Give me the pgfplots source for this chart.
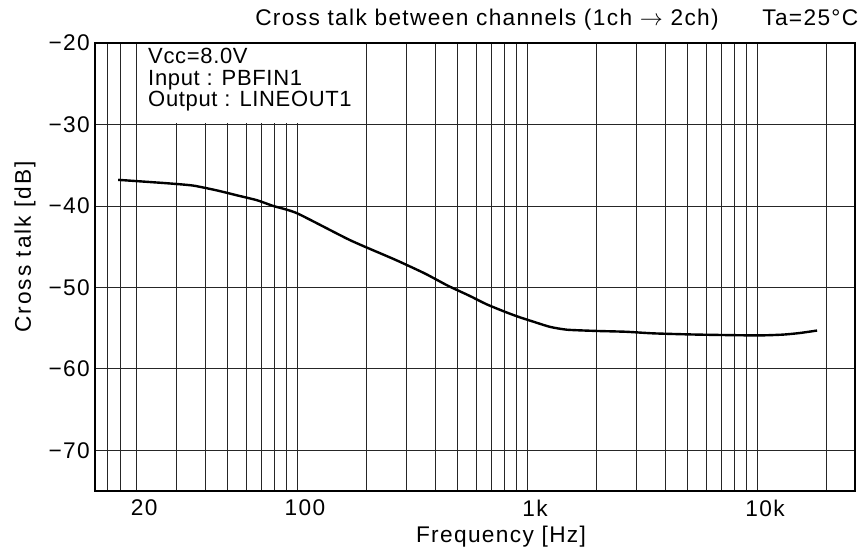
\documentclass[border=0pt]{standalone}
\usepackage{fontspec}
\setmainfont{Liberation Sans}[LetterSpace=6]
\newfontfamily\boxfont{Liberation Sans}[LetterSpace=3]
\newfontfamily\ylabfont{Liberation Sans}[LetterSpace=9]
\usepackage{pgfplots}
\pgfplotsset{compat=1.18}

\begin{document}
\begin{tikzpicture}[font=\fontsize{17}{20}\selectfont]
  % page frame: 866x557 px at 0.75pt/px, axis lower left at (95,491) px
  \useasboundingbox (-71.25pt,-49.5pt) rectangle (578.25pt,368.25pt);
  \begin{axis}[
    at={(0pt,0pt)}, anchor=south west,
    scale only axis,
    width=570pt, height=336pt,
    xmode=log,
    xmin=13.24, xmax=26660,
    ymin=-75, ymax=-20,
    xtick={20,100,1000,10000},
    xticklabels={20,100,1k,10k},
    minor xtick={15,17,30,40,50,60,70,80,90,200,300,400,500,600,700,800,900,
      2000,3000,4000,5000,6000,7000,8000,9000,20000},
    ytick={-70,-60,-50,-40,-30,-20},
    yticklabels={−70,−60,−50,−40,−30,−20},
    major tick length=0pt, minor tick length=0pt,
    xmajorgrids, xminorgrids, ymajorgrids,
    grid style={black!85, line width=0.55pt},
    minor grid style={black!85, line width=0.55pt},
    axis line style={line width=1.5pt},
    xticklabel style={inner sep=0pt, anchor=north, yshift=-6.5pt, xshift=6pt},
    yticklabel style={inner sep=0pt, anchor=east, xshift=-3.75pt},
  ]
    % white panel behind the condition text, then the top frame again
    \fill[white] (axis cs:20.6,-20) rectangle (axis cs:196,-29.85);
    \draw[line width=1.5pt] (rel axis cs:0,1) -- (rel axis cs:1,1);
    \node[anchor=north west, align=left, inner sep=0pt,
      font=\boxfont\fontsize{16.5}{16.2}\selectfont]
      at (axis cs:22.5,-20.6) {Vcc=8.0V\\Input : PBFIN1\\Output : LINEOUT1};

    \addplot[black, line width=1.8pt, smooth, tension=0.35] coordinates {
      (16.7,-36.8) (26.7,-37.2) (35.3,-37.5) (44.9,-38.1) (54.8,-38.7)
      (67,-39.3) (78.7,-40.0) (100,-40.9) (170,-44.2) (267,-46.6)
      (360,-48.3) (453,-49.8) (559,-51.0) (670,-52.1) (802,-53.0)
      (914,-53.6) (1062,-54.2) (1259,-54.85) (1493,-55.2) (2000,-55.35)
      (2692,-55.45) (3565,-55.65) (5534,-55.8) (10000,-55.9) (12970,-55.8)
      (15380,-55.6) (18240,-55.3)
    };
  \end{axis}
  \node at (294pt,353.25pt) {Cross talk between channels (1ch $\rightarrow$ 2ch)};
  \node[anchor=east] at (576pt,354.75pt) {Ta=25°C};
  \node at (304.5pt,-34.5pt) {Frequency [Hz]};
  \node[rotate=90, font=\ylabfont\fontsize{17}{20}\selectfont] at (-52.5pt,183pt) {Cross talk [dB]};
\end{tikzpicture}
\end{document}
